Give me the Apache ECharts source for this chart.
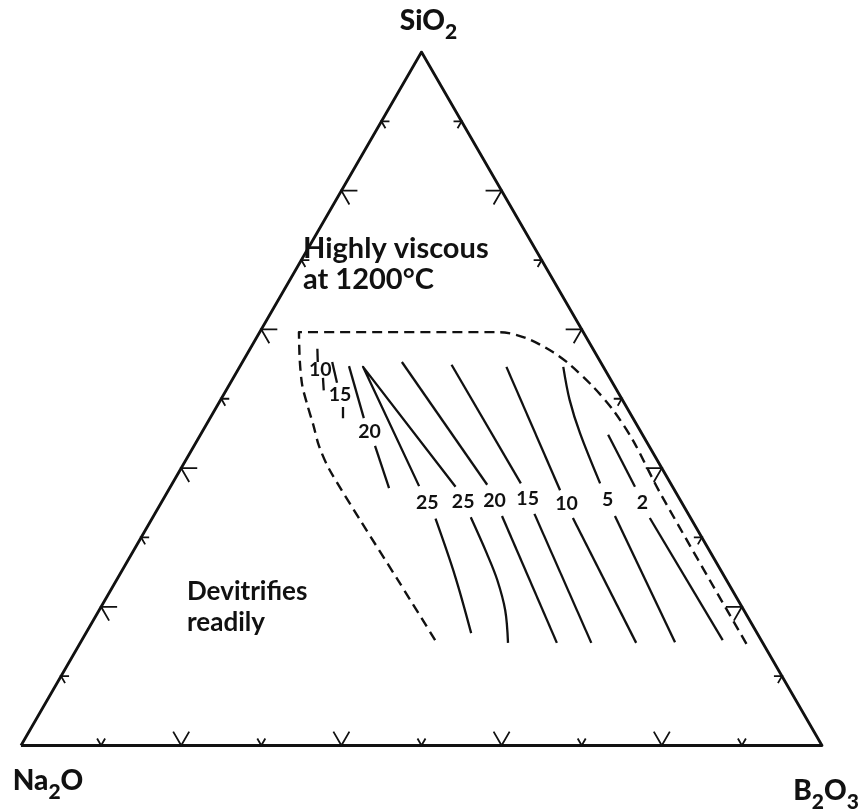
<!DOCTYPE html>
<html>
<head>
<meta charset="utf-8">
<script src="https://cdn.jsdelivr.net/npm/echarts@6/dist/echarts.min.js"></script>
<style>
  html, body { margin: 0; padding: 0; background: #ffffff; }
  #chart { width: 860px; height: 810px; }
</style>
</head>
<body>
<div id="chart"></div>
<script>
// Ternary Na2O – B2O3 – SiO2 glass-forming diagram.
// Every composition is written as [B2O3, SiO2] in mol %; Na2O is the remainder.

const vertexNa2O = [0, 0];
const vertexB2O3 = [100, 0];
const vertexSiO2 = [0, 100];

const tickValues = [10, 20, 30, 40, 50, 60, 70, 80, 90];
const majorTickValues = [20, 40, 60, 80];

// Dashed limit of the glass-forming region
const glassBoundary = [
  [44.1, 15.2], [35.6, 23.4], [26.1, 32.5], [18.6, 39.8], [15.6, 43.2],
  [13.4, 46.2], [11.2, 49.1], [9.1, 52.0], [7.0, 55.6], [4.9, 59.6],
  [30.0, 59.6], [33.8, 58.7], [38.1, 56.7], [41.1, 54.9], [45.6, 51.7],
  [49.7, 48.4], [54.4, 44.0], [61.6, 36.4], [83.4, 14.5]
];

// Iso-lines; each is split into pieces, the label sits in the gap between pieces
const iso10West = [[[8.4, 57.2], [9.4, 55.3]], [[11.2, 53.0], [12.2, 51.2]]];
const iso15West = [[[11.2, 55.3], [13.3, 52.3]], [[15.8, 48.8], [16.6, 47.2]]];
const iso20West = [[[13.6, 54.7], [19.2, 47.2]], [[22.6, 43.2], [27.4, 37.1]]];
const iso25 = [
  [[48.1, 16.2], [42.0, 24.4], [35.4, 32.7]],
  [[31.0, 37.4], [15.4, 54.6], [35.6, 37.3]],
  [[39.7, 32.9], [44.3, 27.7], [47.5, 23.9], [50.7, 19.5], [53.4, 14.8]]
];
const iso20East = [[[19.9, 55.3], [39.4, 37.6]], [[43.5, 33.1], [59.5, 14.8]]];
const iso15East = [[[26.3, 54.9], [43.5, 37.8]], [[47.4, 33.4], [63.8, 14.8]]];
const iso10East = [[[33.3, 54.6], [48.9, 36.8]], [[52.5, 32.8], [69.4, 14.8]]];
const iso5 = [[[40.4, 54.6], [43.6, 49.8], [47.3, 45.0], [53.4, 37.8]], [[57.6, 33.1], [74.2, 14.9]]];
const iso2 = [[[50.9, 44.8], [58.0, 37.3]], [[62.1, 32.8], [80.0, 15.2]]];

const isoLines = [
  { level: 10, pieces: iso10West },
  { level: 15, pieces: iso15West },
  { level: 20, pieces: iso20West },
  { level: 25, pieces: iso25 },
  { level: 20, pieces: iso20East },
  { level: 15, pieces: iso15East },
  { level: 10, pieces: iso10East },
  { level: 5, pieces: iso5 },
  { level: 2, pieces: iso2 }
];

const FONT = 'Lato, "Open Sans", sans-serif';
const INK = '#111111';
const H = Math.sqrt(3) / 2;

// composition [B2O3, SiO2] -> plane coordinates of the equilateral triangle
function toXY(c) {
  return [c[0] + c[1] / 2, c[1] * H];
}

function lineSeries(points, width, dash, smooth) {
  return {
    type: 'line',
    data: points.map(toXY),
    showSymbol: false,
    symbol: 'none',
    silent: true,
    animation: false,
    smooth: smooth || false,
    z: 3,
    lineStyle: { color: INK, width: width, type: dash || 'solid', cap: 'butt', join: 'round' }
  };
}

const series = [];

// triangle frame
series.push(lineSeries([vertexNa2O, vertexB2O3, vertexSiO2, vertexNa2O], 2.8));

// edge ticks: two short strokes running parallel to the other sides
function tickSeries(originXY, dirA, dirB, len) {
  const a = [originXY[0] + dirA[0] * len, originXY[1] + dirA[1] * len];
  const b = [originXY[0] + dirB[0] * len, originXY[1] + dirB[1] * len];
  return {
    type: 'line',
    data: [a, originXY, b],
    showSymbol: false,
    symbol: 'none',
    silent: true,
    animation: false,
    z: 3,
    lineStyle: { color: INK, width: 1.8, cap: 'butt', join: 'miter' }
  };
}
tickValues.forEach(function (v) {
  const len = majorTickValues.indexOf(v) >= 0 ? 2.0 : 1.0;
  // base (Na2O–B2O3)
  series.push(tickSeries(toXY([v, 0]), [-0.5, H], [0.5, H], len));
  // right side (B2O3–SiO2)
  series.push(tickSeries(toXY([100 - v, v]), [-1, 0], [-0.5, -H], len));
  // left side (Na2O–SiO2)
  series.push(tickSeries(toXY([0, v]), [1, 0], [0.5, -H], len));
});

// glass-forming boundary
series.push(lineSeries(glassBoundary, 2.4, [10, 6], 0.3));

// iso-lines and their labels
const labelPoints = [];
isoLines.forEach(function (iso) {
  iso.pieces.forEach(function (piece) {
    series.push(lineSeries(piece, 2.3, null, piece.length > 2 ? 0.35 : false));
  });
  for (let i = 0; i < iso.pieces.length - 1; i++) {
    const endA = iso.pieces[i][iso.pieces[i].length - 1];
    const startB = iso.pieces[i + 1][0];
    labelPoints.push({
      xy: toXY([(endA[0] + startB[0]) / 2, (endA[1] + startB[1]) / 2]),
      text: String(iso.level)
    });
  }
});

// text placed at plane coordinates through the cartesian system
function textSeries(items, styleFor) {
  return {
    type: 'custom',
    coordinateSystem: 'cartesian2d',
    silent: true,
    animation: false,
    z: 6,
    data: items.map(function (it) { return it.xy; }),
    renderItem: function (params, api) {
      const it = items[params.dataIndex];
      const c = api.coord(it.xy);
      return {
        type: 'text',
        x: c[0] + (it.dx || 0),
        y: c[1] + (it.dy || 0),
        style: styleFor(it)
      };
    }
  };
}

series.push(textSeries(labelPoints, function (it) {
  return {
    text: it.text,
    fill: INK,
    fontFamily: FONT,
    fontWeight: 'bold',
    fontSize: 19.5,
    align: 'center',
    verticalAlign: 'middle'
  };
}));

// corner labels
const mainStyle = { fontFamily: FONT, fontWeight: 900, fontSize: 28, fill: INK, lineHeight: 36, verticalAlign: 'top' };
const subStyle = { fontFamily: FONT, fontWeight: 900, fontSize: 21, fill: INK, lineHeight: 20, verticalAlign: 'bottom' };
const cornerLabels = [
  { xy: toXY(vertexSiO2), text: '{m|SiO}{s|2}', dx: 7, dy: -27 },
  { xy: toXY(vertexNa2O), text: '{m|Na}{s|2}{m|O}', dx: 27, dy: 39 },
  { xy: toXY(vertexB2O3), text: '{m|B}{s|2}{m|O}{s|3}', dx: 4, dy: 49 }
];
series.push(textSeries(cornerLabels, function (it) {
  return {
    text: it.text,
    align: 'center',
    verticalAlign: 'middle',
    rich: { m: mainStyle, s: subStyle }
  };
}));

const chart = echarts.init(document.getElementById('chart'), null, { renderer: 'canvas' });
chart.setOption({
  backgroundColor: '#ffffff',
  animation: false,
  grid: { left: 21, right: 38, top: 52, bottom: 64.5, containLabel: false },
  xAxis: { type: 'value', min: 0, max: 100, show: false },
  yAxis: { type: 'value', min: 0, max: 100 * H, show: false },
  series: series,
  graphic: [
    {
      type: 'text',
      left: 303,
      top: 233,
      silent: true,
      style: {
        text: 'Highly viscous\nat 1200°C',
        fontFamily: FONT,
        fontWeight: 'bold',
        fontSize: 29,
        lineHeight: 31,
        fill: INK
      }
    },
    {
      type: 'text',
      left: 187,
      top: 576,
      silent: true,
      style: {
        text: 'Devitrifies\nreadily',
        fontFamily: FONT,
        fontWeight: 'bold',
        fontSize: 26,
        lineHeight: 31,
        fill: INK
      }
    }
  ]
});
</script>
</body>
</html>
